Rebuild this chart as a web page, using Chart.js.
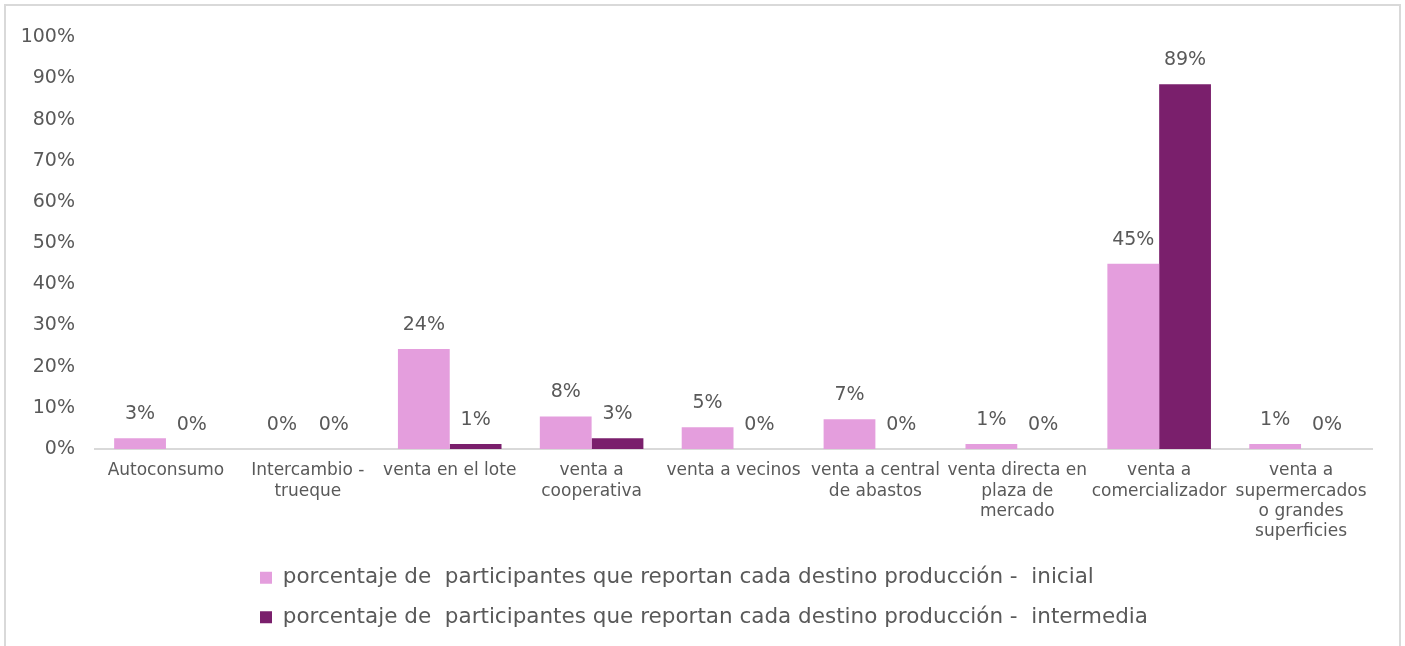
<!DOCTYPE html>
<html>
<head>
<meta charset="utf-8">
<script src="https://cdn.jsdelivr.net/npm/chart.js@4.4.1/dist/chart.umd.min.js"></script>
<style>
  html, body { margin: 0; padding: 0; background: #fff; overflow: hidden; }
  .frame {
    position: absolute; left: 4px; top: 4px;
    width: 1393px; height: 660px;
    border: 2px solid #d9d9d9;
  }
  .frame canvas { display: block; }
</style>
</head>
<body>
<div class="frame"><canvas id="mainChart" width="1393" height="640"></canvas></div>
<script>
// categories (x labels, wrapped like the original)
var categories = [
  "Autoconsumo",
  ["Intercambio -", "trueque"],
  "venta en el lote",
  ["venta a", "cooperativa"],
  "venta a vecinos",
  ["venta a central", "de abastos"],
  ["venta directa en", "plaza de", "mercado"],
  ["venta a", "comercializador"],
  ["venta a", "supermercados", "o grandes", "superficies"]
];

var seriesNames = [
  "porcentaje de  participantes que reportan cada destino producción -  inicial",
  "porcentaje de  participantes que reportan cada destino producción -  intermedia"
];

// values in %
var inicial = [2.6, 0, 24.3, 7.9, 5.3, 7.2, 1.2, 45.0, 1.2];
var intermedia = [0, 0, 1.2, 2.6, 0, 0, 0, 88.6, 0];

var yTicks = [0, 10, 20, 30, 40, 50, 60, 70, 80, 90, 100];

var FONT = "'DejaVu Sans', sans-serif";
var TXT = "#595959";

// value labels above bars
var barLabels = {
  id: "barLabels",
  afterDatasetsDraw: function (chart) {
    var ctx = chart.ctx;
    ctx.save();
    ctx.font = "19px " + FONT;
    ctx.fillStyle = TXT;
    ctx.textAlign = "center";
    ctx.textBaseline = "middle";
    chart.data.datasets.forEach(function (ds, di) {
      var meta = chart.getDatasetMeta(di);
      meta.data.forEach(function (el, i) {
        ctx.fillText(Math.round(ds.data[i]) + "%", el.x, el.y - 24);
      });
    });
    ctx.restore();
  }
};

// keep legend rows left-aligned with each other (and nudge them right a bit)
var legendRows = {
  id: "legendRows",
  afterLayout: function (chart) {
    var lg = chart.legend;
    if (lg && lg.lineWidths) {
      var m = Math.max.apply(null, lg.lineWidths) - 30;
      lg.lineWidths = lg.lineWidths.map(function () { return m; });
    }
  }
};

var ctx = document.getElementById("mainChart").getContext("2d");
var myChart = new Chart(ctx, {
  type: "bar",
  data: {
    labels: categories,
    datasets: [
      {
        label: seriesNames[0],
        data: inicial,
        backgroundColor: "#E49EDD",
        borderWidth: 0
      },
      {
        label: seriesNames[1],
        data: intermedia,
        backgroundColor: "#7A1F6C",
        borderWidth: 0
      }
    ]
  },
  options: {
    responsive: false,
    animation: false,
    layout: { padding: { top: 26, right: 27, left: 0, bottom: 8 } },
    datasets: {
      bar: { categoryPercentage: 0.73, barPercentage: 1.0 }
    },
    scales: {
      x: {
        grid: { display: false, drawTicks: false },
        border: { display: true, color: "#d9d9d9", width: 2 },
        ticks: {
          color: TXT,
          font: { family: FONT, size: 17, lineHeight: 1.18 },
          padding: 12,
          maxRotation: 0,
          autoSkip: false
        },
        afterFit: function (scale) { scale.height = 100; }
      },
      y: {
        min: 0,
        max: 100,
        grid: { display: false, drawTicks: false },
        border: { display: false },
        afterBuildTicks: function (scale) {
          scale.ticks = yTicks.map(function (v) { return { value: v }; });
        },
        ticks: {
          color: TXT,
          font: { family: FONT, size: 19 },
          padding: 20,
          callback: function (v) { return v + "%"; }
        },
        afterFit: function (scale) { scale.width = 89; }
      }
    },
    plugins: {
      legend: {
        position: "bottom",
        labels: {
          color: TXT,
          font: { family: FONT, size: 21.5 },
          boxWidth: 12,
          boxHeight: 12,
          padding: 18
        }
      },
      tooltip: { enabled: false }
    }
  },
  plugins: [barLabels, legendRows]
});
</script>
</body>
</html>
